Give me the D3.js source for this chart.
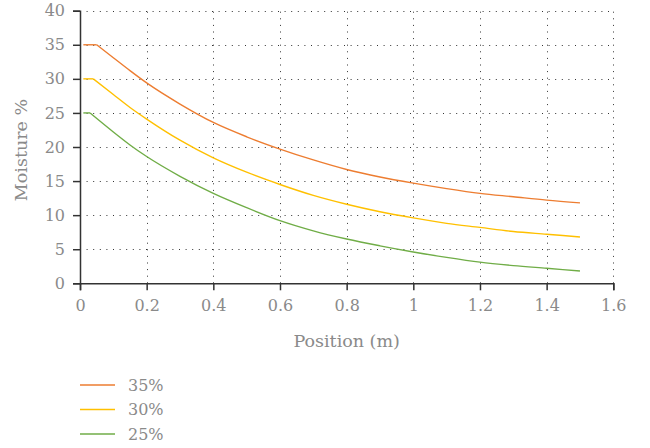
<!DOCTYPE html>
<html><head><meta charset="utf-8">
<script src="https://cdn.jsdelivr.net/npm/d3@7"></script>
<style>body{margin:0;background:#fff}svg{display:block}</style>
</head><body>
<svg id="c" width="650" height="448"></svg>
<script>
const seriesNames = ["35%", "30%", "25%"];
const seriesColors = ["#ED7D31", "#FFC000", "#70AD47"];
const xs35 = [0.01, 0.05, 0.1, 0.15, 0.2, 0.3, 0.4, 0.5, 0.6, 0.7, 0.8, 0.9, 1.0, 1.1, 1.2, 1.3, 1.4, 1.5];
const ys35 = [35, 35, 33.1, 31.2, 29.4, 26.3, 23.6, 21.5, 19.7, 18.1, 16.7, 15.6, 14.7, 13.9, 13.2, 12.7, 12.2, 11.8];
const xs30 = [0.01, 0.04, 0.1, 0.15, 0.2, 0.3, 0.4, 0.5, 0.6, 0.7, 0.8, 0.9, 1.0, 1.1, 1.2, 1.3, 1.4, 1.5];
const ys30 = [30, 30, 27.7, 25.8, 24.1, 21.0, 18.4, 16.3, 14.5, 12.9, 11.6, 10.5, 9.6, 8.8, 8.2, 7.6, 7.2, 6.8];
const xs25 = [0.01, 0.03, 0.1, 0.15, 0.2, 0.3, 0.4, 0.5, 0.6, 0.7, 0.8, 0.9, 1.0, 1.1, 1.2, 1.3, 1.4, 1.5];
const ys25 = [25, 25, 22.2, 20.3, 18.6, 15.7, 13.2, 11.1, 9.2, 7.7, 6.5, 5.5, 4.6, 3.8, 3.1, 2.6, 2.2, 1.8];
const xTicks = [0, 0.2, 0.4, 0.6, 0.8, 1, 1.2, 1.4, 1.6];
const yTicks = [0, 5, 10, 15, 20, 25, 30, 35, 40];

(function () {
const series = [
  {name: seriesNames[0], color: seriesColors[0], pts: xs35.map((x, i) => [x, ys35[i]])},
  {name: seriesNames[1], color: seriesColors[1], pts: xs30.map((x, i) => [x, ys30[i]])},
  {name: seriesNames[2], color: seriesColors[2], pts: xs25.map((x, i) => [x, ys25[i]])}
];

const svg = d3.select("#c");
const font = "DejaVu Serif";
const mL = 80, mR = 613.3, mT = 10.7, mB = 283.3;
const x = d3.scaleLinear().domain([0, 1.6]).range([mL, mR]);
const y = d3.scaleLinear().domain([0, 40]).range([mB, mT]);

// grid
const grid = svg.append("g");
grid.selectAll(".hg").data(yTicks.filter(d => d > 0)).join("line")
  .attr("x1", mL).attr("x2", mR)
  .attr("y1", d => Math.round(y(d)) + 0.5).attr("y2", d => Math.round(y(d)) + 0.5)
  .attr("stroke", "#333").attr("stroke-width", 1).attr("stroke-dasharray", "1,5.6");
grid.selectAll(".vg").data(xTicks.filter(d => d > 0)).join("line")
  .attr("y1", mB).attr("y2", mT)
  .attr("x1", d => Math.round(x(d)) + 0.5).attr("x2", d => Math.round(x(d)) + 0.5)
  .attr("stroke", "#333").attr("stroke-width", 1).attr("stroke-dasharray", "1,5.6");

// axes
const xAxis = svg.append("g").attr("transform", `translate(0,${mB})`)
  .call(d3.axisBottom(x).tickValues(xTicks).tickSize(7).tickPadding(9).tickFormat(d3.format("")));
const yAxis = svg.append("g").attr("transform", `translate(${mL},0)`)
  .call(d3.axisLeft(y).tickValues(yTicks).tickSize(7).tickPadding(8).tickFormat(d3.format("")));
[xAxis, yAxis].forEach(g => {
  g.attr("font-family", font).attr("font-size", 16);
  g.select(".domain").attr("stroke", "#333").attr("stroke-width", 1.5);
  g.selectAll(".tick line").attr("stroke", "#333").attr("stroke-width", 1.5);
  g.selectAll(".tick text").attr("fill", "#8a8a8a");
});

// lines: flat start segment + smooth decay
const flat = d3.line().x(d => x(d[0])).y(d => y(d[1]));
const decay = d3.line().x(d => x(d[0])).y(d => y(d[1])).curve(d3.curveMonotoneX);
const lines = svg.append("g");
series.forEach(s => {
  lines.append("path").attr("d", flat(s.pts.slice(0, 2))).attr("fill", "none")
    .attr("stroke", s.color).attr("stroke-width", 1.4);
  lines.append("path").attr("d", decay(s.pts.slice(1))).attr("fill", "none")
    .attr("stroke", s.color).attr("stroke-width", 1.4);
});

// axis titles
svg.append("text").attr("x", (mL + mR) / 2).attr("y", 347).attr("text-anchor", "middle")
  .attr("fill", "#8a8a8a").attr("font-family", font).attr("font-size", 17.5).text("Position (m)");
svg.append("text").attr("transform", `translate(27,${(mT + mB) / 2 + 3}) rotate(-90)`)
  .attr("text-anchor", "middle").attr("fill", "#8a8a8a").attr("font-family", font).attr("font-size", 17.5)
  .text("Moisture %");

// legend
const lg = svg.append("g").selectAll("g").data(series).join("g")
  .attr("transform", (d, i) => `translate(0,${385 + i * 24.5})`);
lg.append("line").attr("x1", 80).attr("x2", 115).attr("y1", 0).attr("y2", 0)
  .attr("stroke", d => d.color).attr("stroke-width", 1.5);
lg.append("text").attr("x", 128).attr("y", 0).attr("dy", "0.35em").attr("fill", "#8a8a8a")
  .attr("font-family", font).attr("font-size", 16).text(d => d.name);
})();
</script>
</body></html>
